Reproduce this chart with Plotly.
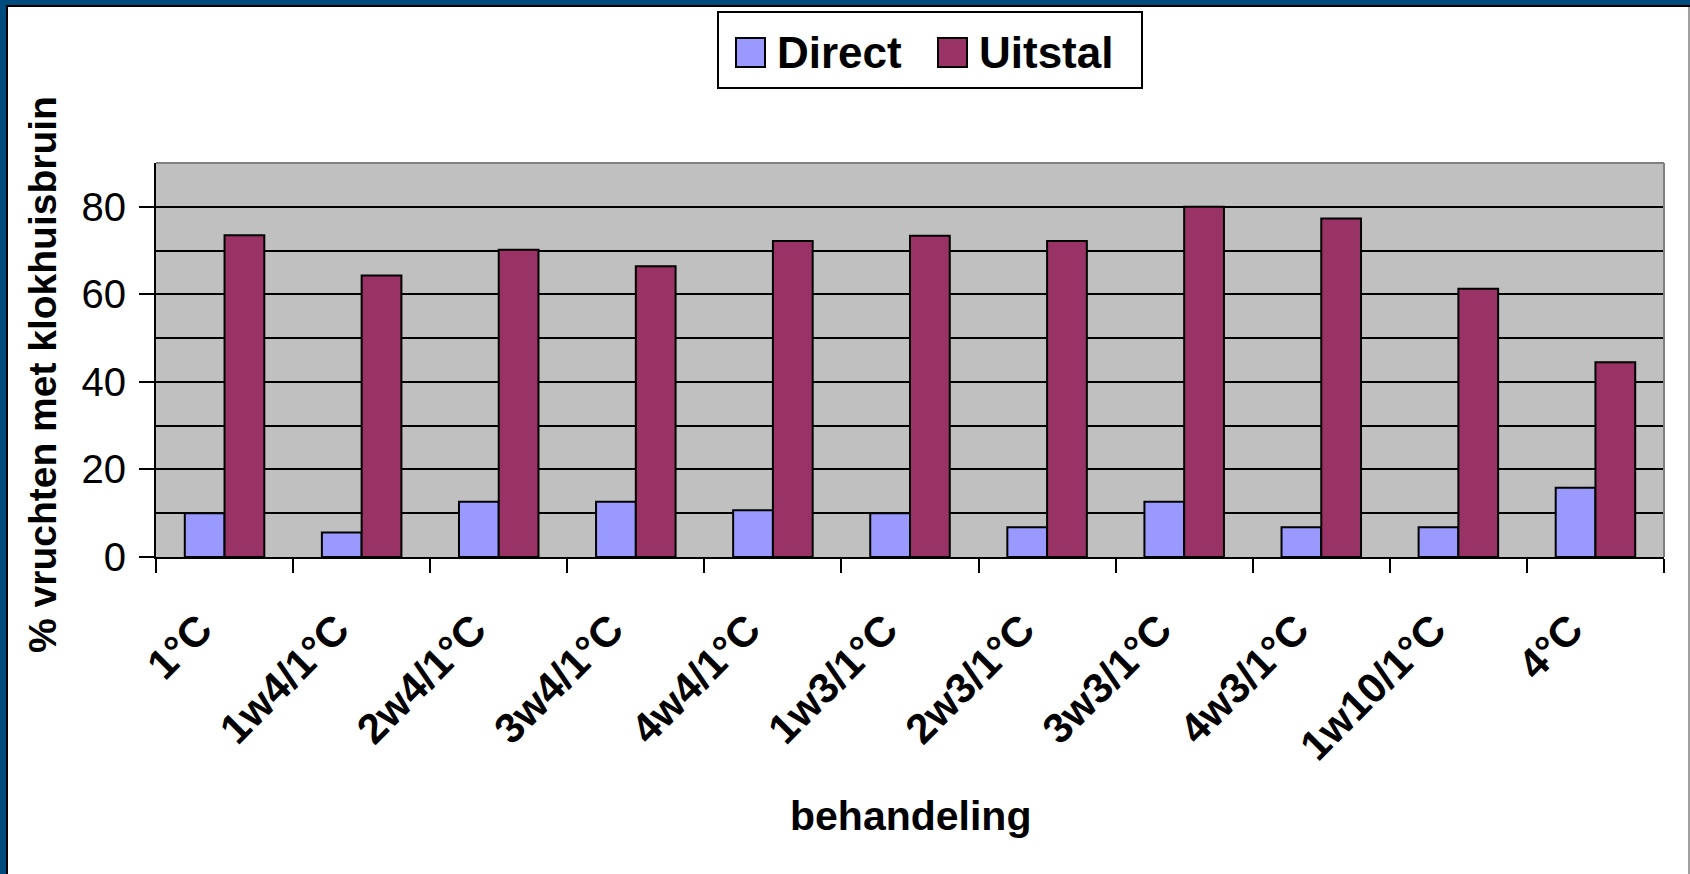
"""
    Klokhuisbruin per behandeling: Direct vs Uitstal
"""

import plotly.graph_objs as go

# data
categories = ["1°C", "1w4/1°C", "2w4/1°C", "3w4/1°C", "4w4/1°C", "1w3/1°C",
              "2w3/1°C", "3w3/1°C", "4w3/1°C", "1w10/1°C", "4°C"]
direct = [10.0, 5.6, 12.6, 12.6, 10.7, 10.0, 6.8, 12.6, 6.8, 6.8, 15.8]
uitstal = [73.5, 64.3, 70.2, 66.4, 72.2, 73.4, 72.2, 80.0, 77.3, 61.3, 44.5]
series_names = ["Direct", "Uitstal"]
series_colors = ["#9999FF", "#993366"]

FONT = "Liberation Sans, Arial, sans-serif"
W, H = 1690, 874
# plot area in pixels
PL, PR, PT, PB = 156, 1664, 163, 557


def xp(px):
    return (px - PL) / (PR - PL)


def yp(py):
    return (PB - py) / (PB - PT)


data = []
for name, vals, color in zip(series_names, [direct, uitstal], series_colors):
    data.append(
        go.Bar(
            x=categories,
            y=vals,
            name=name,
            marker={"color": color, "line": {"color": "black", "width": 2}},
            showlegend=False,
        )
    )

shapes = [
    # slide frame
    dict(type="rect", xref="paper", yref="paper", x0=xp(0), x1=xp(6), y0=yp(H), y1=yp(0),
         fillcolor="#004B7D", line_width=0, layer="above"),
    dict(type="rect", xref="paper", yref="paper", x0=xp(0), x1=xp(W), y0=yp(5), y1=yp(0),
         fillcolor="#004B7D", line_width=0, layer="above"),
    dict(type="rect", xref="paper", yref="paper", x0=xp(6), x1=xp(8), y0=yp(H), y1=yp(5),
         fillcolor="black", line_width=0, layer="above"),
    dict(type="rect", xref="paper", yref="paper", x0=xp(6), x1=xp(W), y0=yp(7), y1=yp(5),
         fillcolor="black", line_width=0, layer="above"),
    dict(type="rect", xref="paper", yref="paper", x0=xp(1688), x1=xp(1690), y0=yp(H), y1=yp(7),
         fillcolor="#A0A0A0", line_width=0, layer="above"),
    # grey top/right border of plot area
    dict(type="line", xref="paper", yref="paper", x0=0, x1=1, y0=1, y1=1,
         line={"color": "#808080", "width": 2}),
    dict(type="line", xref="paper", yref="paper", x0=1, x1=1, y0=0, y1=1,
         line={"color": "#808080", "width": 2}),
    # legend box
    dict(type="rect", xref="paper", yref="paper", x0=xp(718), x1=xp(1142), y0=yp(88), y1=yp(12),
         fillcolor="white", line={"color": "black", "width": 2}),
]

annotations = []
legend_pos = [(736, 775), (938, 977)]
for name, color, (sx, tx) in zip(series_names, series_colors, legend_pos):
    shapes.append(
        dict(type="rect", xref="paper", yref="paper", x0=xp(sx), x1=xp(sx + 29),
             y0=yp(67), y1=yp(38), fillcolor=color, line={"color": "black", "width": 2})
    )
    annotations.append(
        dict(text=name, xref="paper", yref="paper", x=xp(tx), y=yp(52), xanchor="left",
             yanchor="middle", showarrow=False,
             font={"family": FONT, "size": 44, "color": "black", "weight": "bold"})
    )

annotations += [
    dict(text="% vruchten met klokhuisbruin", xref="paper", yref="paper", x=xp(42), y=yp(375),
         textangle=-90, showarrow=False, xanchor="center", yanchor="middle",
         font={"family": FONT, "size": 39, "color": "black", "weight": "bold"}),
    dict(text="behandeling", xref="paper", yref="paper", x=0.5, y=yp(816),
         showarrow=False, xanchor="center", yanchor="middle",
         font={"family": FONT, "size": 41, "color": "black", "weight": "bold"}),
]

# rotated labels sit a little before the category centre, as in the source chart
tick_text = [c + "\u00a0" * 3 for c in categories]

layout = go.Layout(
    width=W,
    height=H,
    margin={"l": PL, "r": W - PR, "t": PT, "b": H - PB, "pad": 0},
    paper_bgcolor="white",
    plot_bgcolor="#C0C0C0",
    barmode="group",
    bargap=0.42,
    bargroupgap=0,
    showlegend=False,
    font={"family": FONT, "color": "black"},
    xaxis={
        "type": "category",
        "tickson": "boundaries",
        "ticks": "outside",
        "ticklen": 14,
        "tickwidth": 2,
        "tickcolor": "black",
        "tickangle": -45,
        "tickvals": categories,
        "ticktext": tick_text,
        "tickfont": {"family": FONT, "size": 42, "color": "black", "weight": "bold"},
        "showline": True,
        "linecolor": "black",
        "linewidth": 2,
        "showgrid": False,
        "ticklabelstandoff": 4,
    },
    yaxis={
        "range": [0, 90],
        "tickvals": [0, 20, 40, 60, 80],
        "ticks": "outside",
        "ticklen": 15,
        "tickwidth": 2,
        "tickcolor": "black",
        "tickfont": {"family": FONT, "size": 40, "color": "black"},
        "showline": True,
        "linecolor": "black",
        "linewidth": 2,
        "showgrid": True,
        "gridcolor": "black",
        "gridwidth": 2,
        "zeroline": False,
        "minor": {"dtick": 10, "tick0": 0, "showgrid": True, "gridcolor": "black",
                  "gridwidth": 2, "ticks": ""},
        "ticklabelstandoff": 5,
    },
    shapes=shapes,
    annotations=annotations,
)

fig = go.Figure(data=data, layout=layout)
fig.write_html(
    "out.html",
    config={"displayModeBar": False},
    post_script="document.body.style.margin='0';",
)
